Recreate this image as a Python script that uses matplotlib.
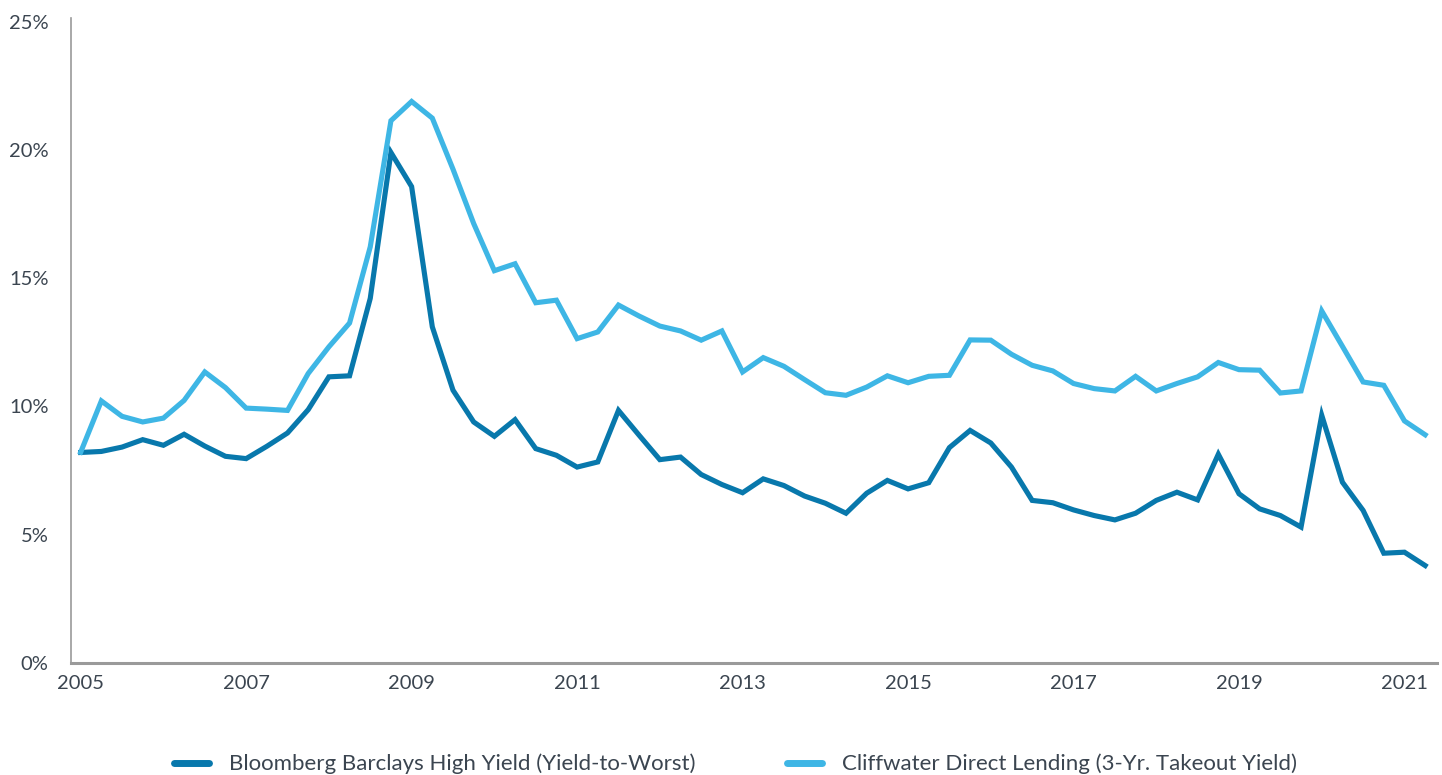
import matplotlib.pyplot as plt
import numpy as np

# quarterly observations, Q1 2005 through Q2 2021
quarters = 2005 + np.arange(66) / 4

high_yield = [
    8.20, 8.24, 8.41, 8.70, 8.48, 8.91, 8.45, 8.05, 7.96, 8.44,
    8.96, 9.87, 11.15, 11.19, 14.21, 19.90, 18.57, 13.10, 10.63, 9.39,
    8.83, 9.48, 8.35, 8.09, 7.63, 7.83, 9.84, 8.87, 7.92, 8.02,
    7.34, 6.95, 6.63, 7.17, 6.91, 6.50, 6.22, 5.83, 6.61, 7.11,
    6.78, 7.02, 8.39, 9.06, 8.57, 7.63, 6.33, 6.24, 5.96, 5.74,
    5.57, 5.83, 6.33, 6.65, 6.35, 8.13, 6.59, 6.00, 5.74, 5.29,
    9.65, 7.04, 5.94, 4.27, 4.31, 3.79,
]

direct_lending = [
    8.21, 10.21, 9.61, 9.39, 9.54, 10.23, 11.34, 10.73, 9.93, 9.89,
    9.84, 11.28, 12.32, 13.25, 16.22, 21.14, 21.89, 21.24, 19.25, 17.13,
    15.29, 15.56, 14.04, 14.14, 12.64, 12.90, 13.95, 13.52, 13.13, 12.94,
    12.58, 12.94, 11.34, 11.90, 11.56, 11.04, 10.53, 10.43, 10.75, 11.19,
    10.92, 11.17, 11.21, 12.59, 12.58, 12.03, 11.60, 11.38, 10.89, 10.69,
    10.60, 11.17, 10.60, 10.89, 11.15, 11.71, 11.43, 11.41, 10.52, 10.60,
    13.72, 12.34, 10.95, 10.82, 9.43, 8.89,
]

year_ticks = list(range(2005, 2022, 2))
pct_ticks = [0, 5, 10, 15, 20, 25]

labels = ["Bloomberg Barclays High Yield (Yield-to-Worst)",
          "Cliffwater Direct Lending (3-Yr. Takeout Yield)"]

plt.rcParams['font.family'] = ['Lato', 'DejaVu Sans']
text_color = '#3b4550'
axis_color = '#9a9a9a'

fig = plt.figure(figsize=(14.42, 7.75), dpi=100)
ax = fig.add_axes([0.0492, 0.1449, 0.9473, 0.832])

ax.plot(quarters, high_yield, color='#0878ac', lw=3.7,
        solid_joinstyle='miter', label=labels[0])
ax.plot(quarters, direct_lending, color='#3eb6e5', lw=3.7,
        solid_joinstyle='miter', label=labels[1])

ax.set_xlim(2005 - 0.47 / 4, 2005 + 65.57 / 4)
ax.set_ylim(0, 25.15)
ax.set_xticks(year_ticks)
ax.set_xticklabels([str(y) for y in year_ticks])
ax.set_yticks(pct_ticks)
ax.set_yticklabels([f"{p}%" for p in pct_ticks])

ax.tick_params(axis='both', length=0, labelsize=14.5, labelcolor=text_color)
ax.tick_params(axis='x', pad=9)
ax.tick_params(axis='y', pad=16)

for side in ['top', 'right']:
    ax.spines[side].set_visible(False)
ax.spines['left'].set_color(axis_color)
ax.spines['left'].set_linewidth(1.2)
ax.spines['bottom'].set_color(axis_color)
ax.spines['bottom'].set_linewidth(2.2)

leg = fig.legend(loc='center', bbox_to_anchor=(0.510, 0.014), ncol=2,
                 frameon=False, fontsize=16, handlelength=1.6,
                 handletextpad=0.9, columnspacing=4.1, labelcolor=text_color)
for line in leg.get_lines():
    line.set_linewidth(5)
    line.set_solid_capstyle('round')

fig.savefig('out.png', dpi=100)
